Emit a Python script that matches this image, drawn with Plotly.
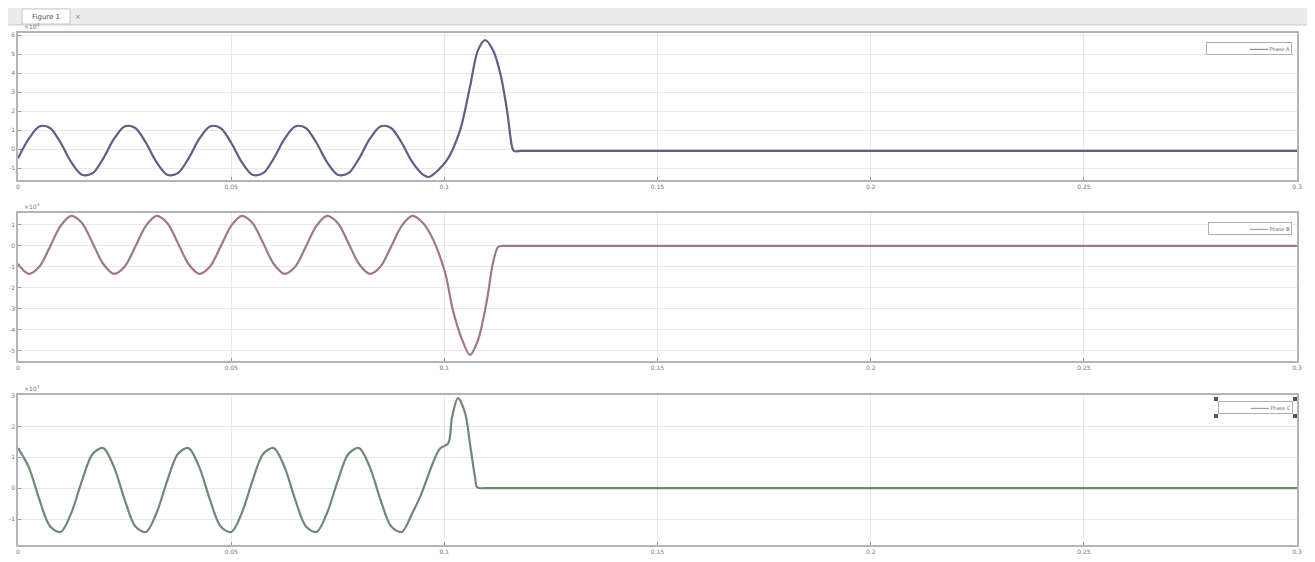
import plotly.graph_objects as go
from plotly.subplots import make_subplots

# ---------------- data ----------------
t_grid = [0.0, 0.0025, 0.005, 0.0075, 0.01, 0.0125, 0.015, 0.0175,
          0.02, 0.0225, 0.025, 0.0275, 0.03, 0.0325, 0.035, 0.0375,
          0.04, 0.0425, 0.045, 0.0475, 0.05, 0.0525, 0.055, 0.0575,
          0.06, 0.0625, 0.065, 0.0675, 0.07, 0.0725, 0.075, 0.0775,
          0.08, 0.0825, 0.085, 0.0875, 0.09, 0.0925, 0.095]

# phase A (top): oscillation + transient
a_times = t_grid + [0.0964, 0.1006, 0.1037, 0.106, 0.1079, 0.1096, 0.1114,
                    0.1131, 0.1147, 0.1159, 0.1163, 0.118]
a_values = [-0.49, 0.53, 1.19, 1.11, 0.33, -0.69, -1.35, -1.27,
            -0.49, 0.53, 1.19, 1.11, 0.33, -0.69, -1.35, -1.27,
            -0.49, 0.53, 1.19, 1.11, 0.33, -0.69, -1.35, -1.27,
            -0.49, 0.53, 1.19, 1.11, 0.33, -0.69, -1.35, -1.27,
            -0.49, 0.53, 1.19, 1.11, 0.33, -0.69, -1.35,
            -1.47, -0.58, 1.0, 3.26, 5.21, 5.74, 5.21,
            4.0, 2.05, 0.1, -0.1, -0.1]
a_flat_times = [0.118, 0.3]
a_flat_values = [-0.1, -0.1]

# phase B (middle)
b_times = t_grid + [0.0974, 0.1002, 0.102, 0.1042, 0.106, 0.1079, 0.11,
                    0.1114, 0.1126, 0.1135]
b_values = [-0.86, -1.33, -0.99, -0.04, 0.96, 1.43, 1.09, 0.14,
            -0.86, -1.33, -0.99, -0.04, 0.96, 1.43, 1.09, 0.14,
            -0.86, -1.33, -0.99, -0.04, 0.96, 1.43, 1.09, 0.14,
            -0.86, -1.33, -0.99, -0.04, 0.96, 1.43, 1.09, 0.14,
            -0.86, -1.33, -0.99, -0.04, 0.96, 1.43, 1.09,
            0.29, -1.29, -3.05, -4.48, -5.19, -4.48, -2.57,
            -0.81, -0.05, 0.0]
b_flat_times = [0.1135, 0.3]
b_flat_values = [0.0, 0.0]

# phase C (bottom)
c_times = t_grid[:38] + [0.0943, 0.0973, 0.099, 0.1009, 0.1018, 0.1032,
                         0.1049, 0.106, 0.1072, 0.1077, 0.109]
c_values = [1.30, 0.69, -0.36, -1.23, -1.42, -0.80, 0.24, 1.11,
            1.30, 0.69, -0.36, -1.23, -1.42, -0.80, 0.24, 1.11,
            1.30, 0.69, -0.36, -1.23, -1.42, -0.80, 0.24, 1.11,
            1.30, 0.69, -0.36, -1.23, -1.42, -0.80, 0.24, 1.11,
            1.30, 0.69, -0.36, -1.23, -1.42, -0.80,
            -0.29, 0.81, 1.29, 1.45, 2.29, 2.92,
            2.42, 1.45, 0.35, 0.03, 0.0]
c_flat_times = [0.109, 0.3]
c_flat_values = [0.0, 0.0]

x_ticks = [0, 0.05, 0.1, 0.15, 0.2, 0.25, 0.3]
x_tick_labels = ["0", "0.05", "0.1", "0.15", "0.2", "0.25", "0.3"]

a_ticks = [-1, 0, 1, 2, 3, 4, 5, 6]
b_ticks = [1, 0, -1, -2, -3, -4, -5]
c_ticks = [-1, 0, 1, 2, 3]

series_names = ["Phase A", "Phase B", "Phase C"]
colors = ["#5a6088", "#a07886", "#6f8a72"]

# ---------------- figure ----------------
# the page body has an 8px margin; the figure is sized to fit inside it
BODY = 8
W, H = 1315 - 2 * BODY, 562 - 2 * BODY
# plot area in page pixels: x 18..1297, y 33..545
ML, MR = 18 - BODY, W + BODY - 1297
MT, MB = 33 - BODY, H + BODY - 545
PW = 1297 - 18
PH = 545 - 33


def px(pix):          # page pixel x -> paper
    return (pix - 18) / PW


def py(pix):          # page pixel y -> paper
    return (545 - pix) / PH


fig = make_subplots(rows=3, cols=1)

doms = [(py(180), py(33)), (py(361), py(213)), (py(545), py(395))]
top_pix = [33, 213, 395]
ranges = [(-1.63, 6.11), (-5.48, 1.57), (-1.84, 3.02)]
yticks = [a_ticks, b_ticks, c_ticks]
data = [(a_times, a_values, a_flat_times, a_flat_values),
        (b_times, b_values, b_flat_times, b_flat_values),
        (c_times, c_values, c_flat_times, c_flat_values)]
legend_box = [(1206, 1292, 42, 55), (1208, 1292, 222, 235),
              (1218, 1293, 401, 414)]
tickfont = dict(size=6, color="#777777", family="DejaVu Sans")

for i in range(3):
    tt, vv, ft, fv = data[i]
    fig.add_trace(go.Scatter(
        x=tt, y=vv, mode="lines", name=series_names[i],
        line=dict(color=colors[i], width=2.2, shape="spline", smoothing=0.9),
        showlegend=False), row=i + 1, col=1)
    fig.add_trace(go.Scatter(
        x=ft, y=fv, mode="lines", name=series_names[i],
        line=dict(color=colors[i], width=2.2),
        showlegend=False), row=i + 1, col=1)
    ax = "" if i == 0 else str(i + 1)
    fig.layout["yaxis" + ax].update(
        domain=list(doms[i]), range=list(ranges[i]), automargin=False,
        tickvals=yticks[i], ticktext=[str(v) for v in yticks[i]],
        showgrid=True, gridcolor="#e8e8e8", gridwidth=1,
        zeroline=False, showline=True, linecolor="#b4b4b4", linewidth=1.5,
        mirror=True, ticks="inside", ticklen=3, tickcolor="#999",
        tickfont=tickfont)
    fig.layout["xaxis" + ax].update(
        range=[0, 0.3], tickvals=x_ticks, ticktext=x_tick_labels,
        automargin=False,
        showgrid=True, gridcolor="#e8e8e8", gridwidth=1,
        zeroline=False, showline=True, linecolor="#b4b4b4", linewidth=1.5,
        mirror=True, ticks="inside", ticklen=3, tickcolor="#999",
        tickfont=tickfont)
    # small legend box (top right of each panel)
    x0, x1, y0, y1 = legend_box[i]
    fig.add_annotation(
        x=px((x0 + x1) / 2), y=py((y0 + y1) / 2), xref="paper", yref="paper",
        xanchor="center", yanchor="middle",
        width=x1 - x0 - 4, height=y1 - y0 - 4, align="right",
        text=("<span style='color:%s'>━━━━━━</span> %s"
              % (colors[i], series_names[i])),
        showarrow=False, bgcolor="white", bordercolor="#b0b0b0",
        borderwidth=1, borderpad=1,
        font=dict(size=5, color="#666666", family="DejaVu Sans"))
    # exponent label
    fig.add_annotation(x=px(22), y=py(top_pix[i]) + 0.001,
                       xref="paper", yref="paper", text="×10<sup>4</sup>",
                       showarrow=False, xanchor="left", yanchor="bottom",
                       font=dict(size=6, color="#777777",
                                 family="DejaVu Sans"))

# selection handles on the last legend
for hx in (1216, 1295):
    for hy in (399, 416):
        fig.add_shape(type="rect", xref="paper", yref="paper",
                      x0=px(hx - 2), x1=px(hx + 2), y0=py(hy + 2),
                      y1=py(hy - 2), fillcolor="#555555",
                      line=dict(width=0), layer="above")

# window header (figure tab)
fig.add_shape(type="rect", xref="paper", yref="paper",
              x0=px(0), x1=px(1315), y0=py(25), y1=py(0),
              fillcolor="#ececec", line=dict(width=0), layer="below")
fig.add_shape(type="line", xref="paper", yref="paper",
              x0=px(0), x1=px(1315), y0=py(25), y1=py(25),
              line=dict(color="#c8c8c8", width=1))
fig.add_shape(type="rect", xref="paper", yref="paper",
              x0=px(22), x1=px(70), y0=py(24), y1=py(9),
              fillcolor="white", line=dict(color="#c8c8c8", width=1))
fig.add_annotation(x=px(46), y=py(16.5), xref="paper", yref="paper",
                   text="Figure 1", showarrow=False,
                   xanchor="center", yanchor="middle",
                   font=dict(size=7, color="#555555", family="DejaVu Sans"))
fig.add_annotation(x=px(78), y=py(16.5), xref="paper", yref="paper",
                   text="×", showarrow=False,
                   xanchor="center", yanchor="middle",
                   font=dict(size=7, color="#888888", family="DejaVu Sans"))

fig.update_layout(
    width=W, height=H,
    margin=dict(l=ML, r=MR, t=MT, b=MB, autoexpand=False),
    paper_bgcolor="white", plot_bgcolor="white",
    font=dict(family="DejaVu Sans"),
    showlegend=False,
)

fig.write_html("out.html")
